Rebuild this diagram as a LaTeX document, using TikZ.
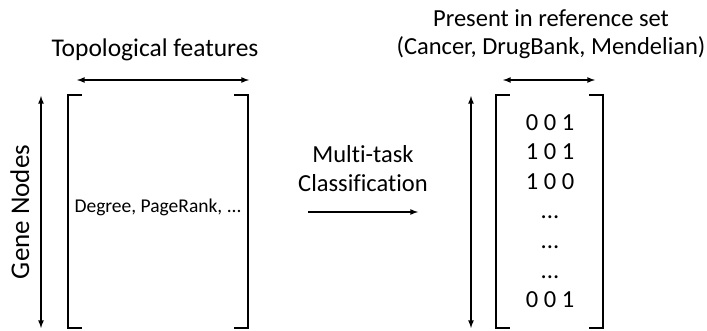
\documentclass[tikz,border=0pt]{standalone}
\usepackage{fontspec}
\setmainfont{Carlito}[Ligatures=CommonOff]
\usetikzlibrary{calc}

\newcommand{\tridot}{...}

\tikzset{
  brk/.style={line width=2.2pt},
  dbl/.style={line width=1.6pt,<->,>=latex},
  txt/.style={inner sep=0pt,anchor=base,font=\fontsize{24.5}{28}\selectfont}
}

\begin{document}
\begin{tikzpicture}[x=1pt,y=-1pt]

\useasboundingbox (0,0) rectangle (707,331);

%%% left matrix: topological features %%%

  \coordinate (TL) at (68,95);
  \coordinate (BL) at (68,328);
  \coordinate (TR) at (248,95);
  \coordinate (BR) at (248,328);
  \coordinate (Fa) at (77,80);
  \coordinate (Fb) at (249,80);
  \coordinate (Ga) at (41,96);
  \coordinate (Gb) at (41,328);

\node (Topo) at (155,57) [txt,font=\fontsize{25.5}{30}\selectfont] {Topological features};
\node (Gene) at (29,212) [txt,rotate=90,font=\fontsize{27}{32}\selectfont] {Gene Nodes};
\node (Deg) at (158,213) [txt,font=\fontsize{19.5}{23}\selectfont] {Degree, PageRank, \tridot};

\draw[brk]
   ($(TL)+(14,0)$) -- (TL) -- (BL) -- ($(BL)+(14,0)$)
   ($(TR)+(-14,0)$) -- (TR) -- (BR) -- ($(BR)+(-14,0)$);

\draw[dbl] (Fa) -- (Fb);
\draw[dbl] (Ga) -- (Gb);

%%% middle arrow %%%

  \coordinate (Ma) at (308,212);
  \coordinate (Mb) at (418,212);

\node (Multi) at (363,163) [txt] {Multi-task};
\node (Class) at (363,192) [txt] {Classification};

\draw[line width=1.6pt,->,>=latex] (Ma) -- (Mb);

%%% right matrix: reference sets %%%

  \coordinate (TLr) at (496,95);
  \coordinate (BLr) at (496,328);
  \coordinate (TRr) at (603,95);
  \coordinate (BRr) at (603,328);
  \coordinate (Ra) at (503,80);
  \coordinate (Rb) at (595,80);
  \coordinate (Va) at (471,96);
  \coordinate (Vb) at (471,328);

\node (Pres) at (551,27) [txt] {Present in reference set};
\node (Sets) at (551,55) [txt] {(Cancer, DrugBank, Mendelian)};

\foreach \row [count=\i from 0] in {0 0 1,1 0 1,1 0 0,\tridot,\tridot,\tridot,0 0 1}
  \node (R\i) at (550,130.5+29.5*\i) [txt] {\row};

\draw[brk]
   ($(TLr)+(14,0)$) -- (TLr) -- (BLr) -- ($(BLr)+(14,0)$)
   ($(TRr)+(-14,0)$) -- (TRr) -- (BRr) -- ($(BRr)+(-14,0)$);

\draw[dbl] (Ra) -- (Rb);
\draw[dbl] (Va) -- (Vb);

\end{tikzpicture}
\end{document}
